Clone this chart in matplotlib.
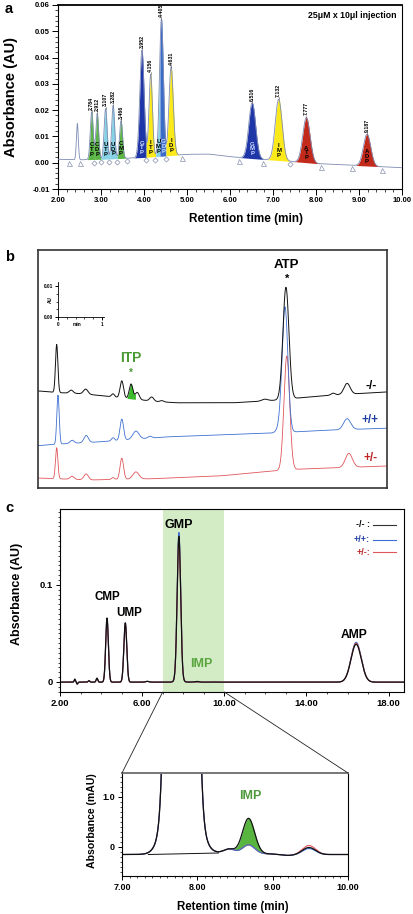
import numpy as np
import matplotlib
matplotlib.use("Agg")
import matplotlib.pyplot as plt
from matplotlib.patches import ConnectionPatch
from matplotlib.ticker import MultipleLocator, FixedLocator, FuncFormatter, FormatStrFormatter

plt.rcParams['font.family'] = ['Liberation Sans', 'DejaVu Sans']
plt.rcParams['font.weight'] = 'bold'
plt.rcParams['axes.labelweight'] = 'bold'

# ---------------- panel a data ----------------
a_base_t = [2.0, 2.5, 3.0, 4.0, 5.0, 5.5, 6.0, 6.5, 7.0, 7.5, 8.0, 9.0, 10.0]
a_base_y = [0.0013, 0.0011, 0.0013, 0.0020, 0.0032, 0.0033, 0.0023, 0.0016, 0.0010, 0.0004, -0.0003, -0.0011, -0.0019]
a_rt = [2.45, 2.784, 2.912, 3.107, 3.282, 3.466, 3.952, 4.156, 4.405, 4.631, 6.516, 7.132, 7.777, 9.187]
a_top = [0.0149, 0.0194, 0.0187, 0.0206, 0.0218, 0.0160, 0.0428, 0.0337, 0.0548, 0.0365, 0.0228, 0.0242, 0.0172, 0.0109]
a_sigma = [0.022, 0.033, 0.033, 0.035, 0.035, 0.035, 0.050, 0.040, 0.045, 0.050, 0.080, 0.080, 0.085, 0.085]
a_comp = ['CTP', 'CDP', 'UTP', 'UDP', 'CMP', 'GTP', 'ITP', 'UMP', 'GDP', 'IDP', 'GMP', 'IMP', 'ATP', 'ADP']
a_comp_rt = [2.784, 2.912, 3.107, 3.282, 3.466, 3.952, 4.156, 4.34, 4.45, 4.631, 6.516, 7.132, 7.777, 9.187]
a_comp_start = [2.68, 2.85, 3.00, 3.20, 3.38, 3.75, 4.05, 4.27, 4.37, 4.51, 6.22, 6.85, 7.42, 8.85]
a_comp_end = [2.85, 3.00, 3.20, 3.38, 3.62, 4.05, 4.27, 4.37, 4.51, 4.89, 6.78, 7.42, 8.12, 9.53]
a_tri_t = [2.25, 2.50, 4.89, 6.21, 6.77, 8.12, 8.84, 9.53]
a_dia_t = [2.83, 3.00, 3.19, 3.38, 3.60, 4.04, 4.26, 4.50, 7.39]

GREEN, CYAN, NAVY, BLUE, YELLOW, RED = '#5cb646', '#86d3e6', '#1f36a8', '#3a6cc8', '#fbe919', '#c22a1c'
a_comp_color = [GREEN, GREEN, CYAN, CYAN, GREEN, NAVY, YELLOW, CYAN, BLUE, YELLOW, NAVY, YELLOW, RED, RED]
a_letter_color = ['black', 'black', 'black', 'black', 'black', '#cfe0ff', 'black', 'black', '#cfe0ff', 'black',
                  '#cfe0ff', 'black', 'black', 'black']

# ---------------- panel b data (min, AU) ----------------
b_ko_base_t = [-0.43, -0.02, 0.57, 1.18, 1.70, 2.25, 2.70, 3.98, 4.75, 5.50, 6.25, 7.48]
b_ko_base_y = [-0.0239, -0.0244, -0.0248, -0.0257, -0.0265, -0.0273, -0.0277, -0.0277, -0.0271, -0.0261, -0.0252, -0.0242]
b_ko_rt = [-0.03, 0.30, 0.63, 1.25, 1.45, 1.66, 1.80, 2.13, 2.36, 4.70, 5.18, 6.25, 6.57]
b_ko_amp = [0.0155, 0.0010, 0.0016, 0.0010, 0.0055, 0.0048, 0.0023, 0.0013, 0.0004, 0.0006, 0.0361, 0.0006, 0.0035]
b_ko_sig = [0.027, 0.045, 0.050, 0.034, 0.039, 0.041, 0.045, 0.045, 0.040, 0.070, 0.068, 0.045, 0.070]

b_wt_base_t = [-0.43, 0.05, 0.95, 2.48, 4.98, 5.50, 6.25, 7.48]
b_wt_base_y = [-0.0415, -0.0410, -0.0403, -0.0387, -0.0374, -0.0370, -0.0365, -0.0359]
b_wt_rt = [0.0, 0.32, 0.64, 1.25, 1.45, 1.77, 2.09, 5.05, 5.16, 6.57]
b_wt_amp = [0.0158, 0.0010, 0.0023, 0.0010, 0.0068, 0.0026, 0.0006, 0.0019, 0.0400, 0.0035]
b_wt_sig = [0.027, 0.045, 0.050, 0.035, 0.040, 0.070, 0.045, 0.070, 0.065, 0.080]

b_het_base_t = [-0.43, 0.73, 2.16, 3.68, 4.98, 5.50, 7.48]
b_het_base_y = [-0.0520, -0.0526, -0.0522, -0.0513, -0.0496, -0.0491, -0.0481]
b_het_rt = [-0.03, 0.32, 0.64, 1.25, 1.45, 1.77, 5.20, 6.61]
b_het_amp = [0.0100, 0.0010, 0.0019, 0.0006, 0.0068, 0.0023, 0.0368, 0.0045]
b_het_sig = [0.027, 0.045, 0.050, 0.035, 0.040, 0.070, 0.065, 0.080]

# ---------------- panels c/d data (min, AU) ----------------
cd_base_t = [2.0, 7.0, 7.35, 8.27, 8.50, 9.00, 9.20, 9.80, 10.0, 19.0]
cd_base_y = [-0.00015, -0.00015, -0.00015, -0.00012, -0.00012, -0.00014, -0.00017, -0.00015, -0.00015, -0.00015]
cd_rt = [2.72, 2.84, 3.41, 3.80, 4.29, 5.18, 6.25, 7.79, 7.79, 8.42, 8.68, 9.48, 16.42]
cd_sig = [0.03, 0.03, 0.04, 0.04, 0.065, 0.07, 0.08, 0.085, 0.15, 0.07, 0.08, 0.09, 0.25]
cd_ko_amp = [0.0030, -0.0020, 0.0015, 0.0040, 0.0660, 0.0610, 0.0008, 0.1470, 0.0030, 0.00008, 0.00070, 0.00015, 0.0390]
cd_wt_amp = [0.0030, -0.0020, 0.0015, 0.0040, 0.0650, 0.0610, 0.0008, 0.1510, 0.0030, 0.00008, 0.00017, 0.00013, 0.0410]
cd_het_amp = [0.0030, -0.0020, 0.0015, 0.0040, 0.0640, 0.0600, 0.0008, 0.1460, 0.0030, 0.00008, 0.00017, 0.00019, 0.0400]
d_intbase_t = [7.35, 8.28]
d_intbase_y = [-0.15, -0.12]   # mAU

KO_C, WT_C, HET_C = '#111111', '#3d6fd0', '#e0555a'


def chrom(t, base_t, base_y, rts, amps, sigs):
    y = np.interp(t, base_t, base_y)
    for r, a, s in zip(rts, amps, sigs):
        y = y + a * np.exp(-0.5 * ((t - r) / s) ** 2)
    return y


W, H = 413, 914
fig = plt.figure(figsize=(W / 100, H / 100), dpi=100)


def ax_px(l, t, r, b):
    return fig.add_axes([l / W, 1 - b / H, (r - l) / W, (b - t) / H])


def style_ticks(ax, size, major=3, minor=1.5):
    ax.tick_params(which='major', direction='out', length=major, width=0.7, labelsize=size, pad=2)
    ax.tick_params(which='minor', direction='out', length=minor, width=0.5)
    for lab in ax.get_xticklabels() + ax.get_yticklabels():
        lab.set_fontweight('bold')


# ================= panel a =================
axa = ax_px(58, 5, 402, 189)
ta = np.linspace(2.0, 10.0, 4000)
a_amp = [top - np.interp(r, a_base_t, a_base_y) for top, r in zip(a_top, a_rt)]
base_a = np.interp(ta, a_base_t, a_base_y)
sig_a = chrom(ta, a_base_t, a_base_y, a_rt, a_amp, a_sigma)
for name, s, e, col, lc, rt in zip(a_comp, a_comp_start, a_comp_end, a_comp_color, a_letter_color, a_comp_rt):
    m = (ta >= s) & (ta <= e)
    axa.fill_between(ta[m], base_a[m], sig_a[m], color=col, lw=0, zorder=2)
    axa.text(rt, np.interp(rt, a_base_t, a_base_y) + 0.0037, '\n'.join(name), color=lc,
             fontsize=4.3, ha='center', va='center', linespacing=0.95, zorder=4)
axa.plot(ta, sig_a, color='#7f8cb4', lw=0.6, zorder=3)
for r, top in zip(a_rt[1:], a_top[1:]):
    axa.plot([r, r], [top, top + 0.0007], color='#555555', lw=0.4, zorder=3)
    axa.text(r, top + 0.0008, f'{r:.3f}', rotation=90, fontsize=3.8, ha='center', va='bottom', zorder=4)
axa.plot(a_tri_t, np.interp(a_tri_t, a_base_t, a_base_y) - 0.0012, ls='none', marker='^',
         ms=3.6, mfc='white', mec='#8892b0', mew=0.5, zorder=5)
axa.plot(a_dia_t, np.interp(a_dia_t, a_base_t, a_base_y) - 0.0012, ls='none', marker='D',
         ms=2.6, mfc='white', mec='#8892b0', mew=0.5, zorder=5)
axa.set_xlim(2.0, 10.0)
axa.set_ylim(-0.01, 0.06)
axa.xaxis.set_major_locator(MultipleLocator(1.0))
axa.xaxis.set_minor_locator(MultipleLocator(0.2))
axa.xaxis.set_major_formatter(FormatStrFormatter('%.2f'))
axa.yaxis.set_major_locator(MultipleLocator(0.01))
axa.yaxis.set_minor_locator(MultipleLocator(0.002))
axa.yaxis.set_major_formatter(FormatStrFormatter('%.2f'))
style_ticks(axa, 5.5, major=4, minor=2)
for sp in axa.spines.values():
    sp.set_linewidth(0.8)
axa.spines['top'].set_linewidth(1.3)
axa.set_ylabel('Absorbance (AU)', fontsize=10.5)
axa.yaxis.set_label_coords(-0.115, 0.5)
axa.set_xlabel('Retention time (min)', fontsize=8.5)
axa.xaxis.set_label_coords(0.546, -0.13)
axa.text(0.985, 0.945, '25μM x 10μl injection', transform=axa.transAxes, ha='right', va='center', fontsize=6.3)

# ================= panel b =================
axb = ax_px(38, 250, 387, 488)
tb = np.linspace(-0.45, 7.48, 4000)
ko_b = chrom(tb, b_ko_base_t, b_ko_base_y, b_ko_rt, b_ko_amp, b_ko_sig)
wt_b = chrom(tb, b_wt_base_t, b_wt_base_y, b_wt_rt, b_wt_amp, b_wt_sig)
het_b = chrom(tb, b_het_base_t, b_het_base_y, b_het_rt, b_het_amp, b_het_sig)
axb.plot(tb, het_b, color=HET_C, lw=0.6)
axb.plot(tb, wt_b, color=WT_C, lw=0.6)
axb.plot(tb, ko_b, color=KO_C, lw=0.7)
mb = (tb >= 1.57) & (tb <= 1.76)
axb.fill_between(tb[mb], np.interp(tb[mb], b_ko_base_t, b_ko_base_y), ko_b[mb], color='#3dbb2e', lw=0)
axb.set_xlim(-0.4545, 7.477)
axb.set_ylim(-0.0552, 0.0216)
axb.set_xticks([])
axb.set_yticks([])
for sp in axb.spines.values():
    sp.set_linewidth(1.2)
    sp.set_color('#333333')
axb.text(5.20, 0.0168, 'ATP', ha='center', va='center', fontsize=9.5)
axb.text(5.20, 0.0122, '*', ha='center', va='center', fontsize=8)
axb.text(1.66, -0.0132, 'ITP', ha='center', va='center', fontsize=10, color='#4a9a35')
axb.text(1.66, -0.0180, '*', ha='center', va='center', fontsize=7, color='#4a9a35')
axb.text(7.11, -0.0223, '-/-', ha='center', va='center', fontsize=8.5, color='black')
axb.text(7.09, -0.0332, '+/+', ha='center', va='center', fontsize=8.5, color='#1f3fa0')
axb.text(7.11, -0.0455, '+/-', ha='center', va='center', fontsize=8.5, color='#c02525')

# inset scale
axi = ax_px(58, 282, 104.2, 317)
axi.set_xlim(0, 1.05)
axi.set_ylim(0, 0.0113)
axi.patch.set_alpha(0)
axi.spines['top'].set_visible(False)
axi.spines['right'].set_visible(False)
for sp in axi.spines.values():
    sp.set_linewidth(0.6)
axi.xaxis.set_major_locator(FixedLocator([0, 1]))
axi.xaxis.set_minor_locator(MultipleLocator(0.2))
axi.xaxis.set_major_formatter(FuncFormatter(lambda v, p: f'{v:.0f}'))
axi.yaxis.set_major_locator(FixedLocator([0, 0.01]))
axi.yaxis.set_minor_locator(MultipleLocator(0.0025))
axi.yaxis.set_major_formatter(FormatStrFormatter('%.2f'))
style_ticks(axi, 3.4, major=2, minor=1.2)
axi.tick_params(pad=1.5)
axi.set_xlabel('min', fontsize=3.4)
axi.xaxis.set_label_coords(0.42, -0.13)
axi.set_ylabel('AU', fontsize=3.4)
axi.yaxis.set_label_coords(-0.12, 0.5)

# ================= panel c =================
axc = ax_px(60, 509, 404, 692)
tc = np.linspace(2.0, 19.0, 6000)
ko_c = chrom(tc, cd_base_t, cd_base_y, cd_rt, cd_ko_amp, cd_sig)
wt_c = chrom(tc, cd_base_t, cd_base_y, cd_rt, cd_wt_amp, cd_sig)
het_c = chrom(tc, cd_base_t, cd_base_y, cd_rt, cd_het_amp, cd_sig)
axc.axvspan(7.0, 10.0, color='#d3ecc6', lw=0, zorder=0)
axc.plot(tc, wt_c, color=WT_C, lw=0.8)
axc.plot(tc, het_c, color=HET_C, lw=0.8)
axc.plot(tc, ko_c, color=KO_C, lw=0.9)
c_ylim = (-0.0103, 0.178)
axc.set_xlim(2.0, 18.75)
axc.set_ylim(*c_ylim)
axc.xaxis.set_major_locator(FixedLocator([2, 6, 10, 14, 18]))
axc.xaxis.set_minor_locator(MultipleLocator(1.0))
axc.xaxis.set_major_formatter(FormatStrFormatter('%.2f'))
axc.yaxis.set_major_locator(FixedLocator([0, 0.1]))
axc.yaxis.set_minor_locator(MultipleLocator(0.005))
axc.yaxis.set_major_formatter(FormatStrFormatter('%g'))
style_ticks(axc, 6.8, major=3, minor=1.5)
for sp in axc.spines.values():
    sp.set_linewidth(0.8)
axc.set_ylabel('Absorbance (AU)', fontsize=9)
axc.yaxis.set_label_coords(-0.108, 0.535)
axc.text(7.76, 0.162, 'GMP', ha='center', va='center', fontsize=9)
axc.text(4.30, 0.0876, 'CMP', ha='center', va='center', fontsize=8.4)
axc.text(5.36, 0.071, 'UMP', ha='center', va='center', fontsize=8.4)
axc.text(16.30, 0.048, 'AMP', ha='center', va='center', fontsize=8.7)
axc.text(8.88, 0.0186, 'IMP', ha='center', va='center', fontsize=9, color='#5aa53f')
for lab, col, yy in [('-/- :', 'black', 0.913), ('+/+:', '#1f3fa0', 0.831), ('+/-:', '#c02525', 0.765)]:
    axc.text(0.901, yy, lab, transform=axc.transAxes, ha='right', va='center', fontsize=6.5, color=col)
for col, yy in [('#333333', 0.913), (WT_C, 0.831), (HET_C, 0.765)]:
    axc.plot([0.910, 0.977], [yy, yy], transform=axc.transAxes, color=col, lw=0.8)

# ================= panel d =================
axd = ax_px(122, 773, 348, 876)
td = np.linspace(7.0, 10.0, 3000)
ko_d = 1000 * chrom(td, cd_base_t, cd_base_y, cd_rt, cd_ko_amp, cd_sig)
wt_d = 1000 * chrom(td, cd_base_t, cd_base_y, cd_rt, cd_wt_amp, cd_sig)
het_d = 1000 * chrom(td, cd_base_t, cd_base_y, cd_rt, cd_het_amp, cd_sig)
md = (td >= 8.48) & (td <= 8.95)
axd.fill_between(td[md], wt_d[md], ko_d[md], color='#58b540', lw=0)
axd.plot(td, het_d, color=HET_C, lw=0.8)
axd.plot(td, wt_d, color=WT_C, lw=0.8)
axd.plot(td, ko_d, color=KO_C, lw=0.9)
axd.plot(d_intbase_t, d_intbase_y, color=KO_C, lw=0.7)
d_ylim = (-0.58, 1.48)
axd.set_xlim(7.0, 10.0)
axd.set_ylim(*d_ylim)
axd.xaxis.set_major_locator(MultipleLocator(1.0))
axd.xaxis.set_minor_locator(MultipleLocator(0.1))
axd.xaxis.set_major_formatter(FormatStrFormatter('%.2f'))
axd.yaxis.set_major_locator(FixedLocator([0, 1.0]))
axd.yaxis.set_minor_locator(MultipleLocator(0.1))
axd.yaxis.set_major_formatter(FuncFormatter(lambda v, p: '0' if abs(v) < 1e-9 else f'{v:.1f}'))
style_ticks(axd, 6.5, major=3, minor=1.5)
for sp in axd.spines.values():
    sp.set_linewidth(0.8)
axd.spines['top'].set_linewidth(1.4)
axd.spines['top'].set_color('#777777')
axd.set_ylabel('Absorbance (mAU)', fontsize=7.6)
axd.yaxis.set_label_coords(-0.11, 0.534)
axd.set_xlabel('Retention time (min)', fontsize=8.3)
axd.xaxis.set_label_coords(0.49, -0.24)
axd.text(8.70, 1.02, 'IMP', ha='center', va='center', fontsize=9, color='#4e9a3c')

# connectors from panel c to panel d
for xv in (7.0, 10.0):
    con = ConnectionPatch(xyA=(xv, c_ylim[0]), coordsA=axc.transData,
                          xyB=(xv, d_ylim[1]), coordsB=axd.transData, color='#222222', lw=0.6)
    fig.add_artist(con)

# panel letters
fig.text(5 / W, 1 - 9 / H, 'a', fontsize=10.5, ha='left', va='center')
fig.text(5 / W, 1 - 257 / H, 'b', fontsize=10.5, ha='left', va='center')
fig.text(5 / W, 1 - 508 / H, 'c', fontsize=10.5, ha='left', va='center')

fig.savefig('out.png', dpi=100)
